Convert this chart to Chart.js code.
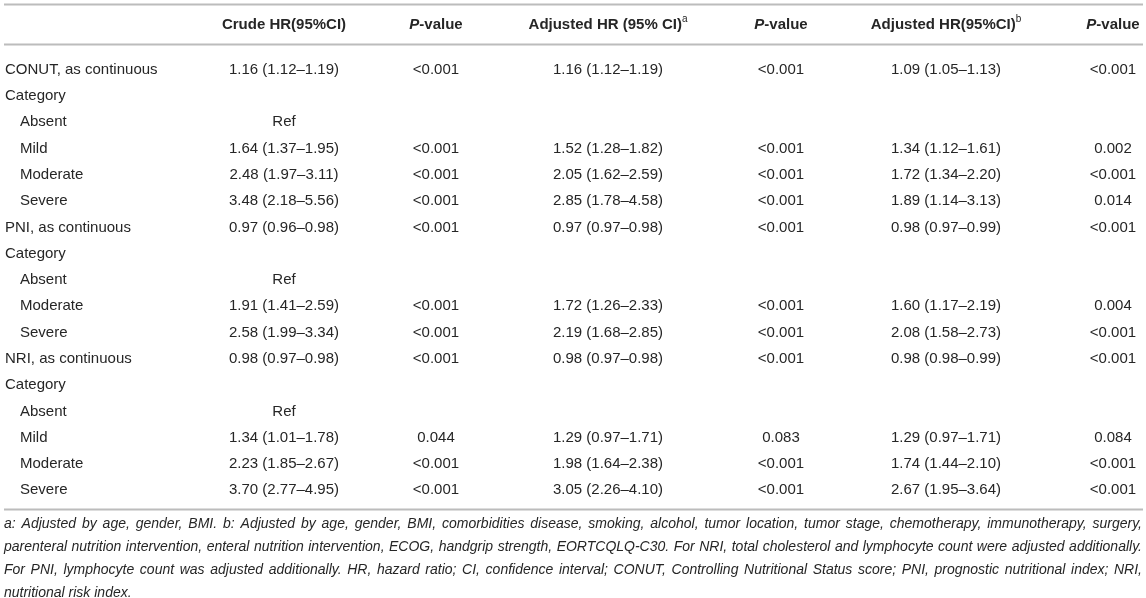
<!DOCTYPE html>
<html>
<head>
<meta charset="utf-8">
<script src="https://cdn.jsdelivr.net/npm/chart.js@4.4.0/dist/chart.umd.js"></script>
<style>
  html, body { margin: 0; padding: 0; background: #fff; }
  #wrap { width: 1146px; height: 598px; }
</style>
</head>
<body>
<div id="wrap"><canvas id="hrTable" width="1146" height="598"></canvas></div>
<script>
// --- table content ---
const rowLabels = [
  'CONUT, as continuous', 'Category', 'Absent', 'Mild', 'Moderate', 'Severe',
  'PNI, as continuous', 'Category', 'Absent', 'Moderate', 'Severe',
  'NRI, as continuous', 'Category', 'Absent', 'Mild', 'Moderate', 'Severe'
]
// 0 = variable, 1 = level inside a category (indented)
const rowLevel = [0, 0, 1, 1, 1, 1, 0, 0, 1, 1, 1, 0, 0, 1, 1, 1, 1]

const crudeHR = [
  '1.16 (1.12–1.19)', '', 'Ref', '1.64 (1.37–1.95)', '2.48 (1.97–3.11)', '3.48 (2.18–5.56)',
  '0.97 (0.96–0.98)', '', 'Ref', '1.91 (1.41–2.59)', '2.58 (1.99–3.34)',
  '0.98 (0.97–0.98)', '', 'Ref', '1.34 (1.01–1.78)', '2.23 (1.85–2.67)', '3.70 (2.77–4.95)'
]
const crudeP = [
  '<0.001', '', '', '<0.001', '<0.001', '<0.001',
  '<0.001', '', '', '<0.001', '<0.001',
  '<0.001', '', '', '0.044', '<0.001', '<0.001'
]
const adjHRa = [
  '1.16 (1.12–1.19)', '', '', '1.52 (1.28–1.82)', '2.05 (1.62–2.59)', '2.85 (1.78–4.58)',
  '0.97 (0.97–0.98)', '', '', '1.72 (1.26–2.33)', '2.19 (1.68–2.85)',
  '0.98 (0.97–0.98)', '', '', '1.29 (0.97–1.71)', '1.98 (1.64–2.38)', '3.05 (2.26–4.10)'
]
const adjPa = [
  '<0.001', '', '', '<0.001', '<0.001', '<0.001',
  '<0.001', '', '', '<0.001', '<0.001',
  '<0.001', '', '', '0.083', '<0.001', '<0.001'
]
const adjHRb = [
  '1.09 (1.05–1.13)', '', '', '1.34 (1.12–1.61)', '1.72 (1.34–2.20)', '1.89 (1.14–3.13)',
  '0.98 (0.97–0.99)', '', '', '1.60 (1.17–2.19)', '2.08 (1.58–2.73)',
  '0.98 (0.98–0.99)', '', '', '1.29 (0.97–1.71)', '1.74 (1.44–2.10)', '2.67 (1.95–3.64)'
]
const adjPb = [
  '<0.001', '', '', '0.002', '<0.001', '0.014',
  '<0.001', '', '', '0.004', '<0.001',
  '<0.001', '', '', '0.084', '<0.001', '<0.001'
]

// header pieces: [text, style]  (b = bold, bi = bold italic, sup = superscript)
const headers = [
  [['Crude HR(95%CI)', 'b']],
  [['P', 'bi'], ['-value', 'b']],
  [['Adjusted HR (95% CI)', 'b'], ['a', 'sup']],
  [['P', 'bi'], ['-value', 'b']],
  [['Adjusted HR(95%CI)', 'b'], ['b', 'sup']],
  [['P', 'bi'], ['-value', 'b']]
]

const footnoteLines = [
  'a: Adjusted by age, gender, BMI. b: Adjusted by age, gender, BMI, comorbidities disease, smoking, alcohol, tumor location, tumor stage, chemotherapy, immunotherapy, surgery,',
  'parenteral nutrition intervention, enteral nutrition intervention, ECOG, handgrip strength, EORTCQLQ-C30. For NRI, total cholesterol and lymphocyte count were adjusted additionally.',
  'For PNI, lymphocyte count was adjusted additionally. HR, hazard ratio; CI, confidence interval; CONUT, Controlling Nutritional Status score; PNI, prognostic nutritional index; NRI,',
  'nutritional risk index.'
]

// --- layout ---
const FAMILY = '"Liberation Sans", Arial, Helvetica, sans-serif'
const TEXT = '#262626'
const RULE = '#bcbcbc'
const LABEL_X = 5
const INDENT = 15
const COL_X = [284, 436, 608, 781, 946, 1113]
const NOTE_LEFT = 4
const NOTE_RIGHT = 1142

const columns = [crudeHR, crudeP, adjHRa, adjPa, adjHRb, adjPb]

const datasets = [{
  label: 'rows',
  cells: rowLabels,
  align: 'left',
  data: rowLabels.map((_, i) => ({ x: LABEL_X + rowLevel[i] * INDENT, y: i })),
  pointRadius: 0
}].concat(columns.map((vals, c) => ({
  label: 'col' + c,
  cells: vals,
  align: 'center',
  data: vals.map((_, i) => ({ x: COL_X[c], y: i })),
  pointRadius: 0
})))

function font(style, size) {
  if (style === 'b') return `bold ${size}px ${FAMILY}`
  if (style === 'bi') return `italic bold ${size}px ${FAMILY}`
  if (style === 'i') return `italic ${size}px ${FAMILY}`
  return `${size}px ${FAMILY}`
}

const tablePlugin = {
  id: 'tableText',
  afterDatasetsDraw(chart) {
    const ctx = chart.ctx
    const { top, bottom } = chart.chartArea
    const xs = chart.scales.x
    ctx.save()

    // horizontal rules
    ctx.fillStyle = RULE
    ctx.fillRect(4, top - 53, 1139, 2)
    ctx.fillRect(4, top - 13, 1139, 2)
    ctx.fillRect(4, bottom + 5, 1139, 2)

    // column headers
    ctx.fillStyle = TEXT
    ctx.textBaseline = 'middle'
    ctx.textAlign = 'left'
    const hy = top - 32
    headers.forEach((pieces, c) => {
      let w = 0
      pieces.forEach(([t, s]) => {
        ctx.font = s === 'sup' ? font('', 10) : font(s, 15)
        w += ctx.measureText(t).width
      })
      let x = xs.getPixelForValue(COL_X[c]) - w / 2
      pieces.forEach(([t, s]) => {
        ctx.font = s === 'sup' ? font('', 10) : font(s, 15)
        ctx.fillText(t, x, s === 'sup' ? hy - 5 : hy)
        x += ctx.measureText(t).width
      })
    })

    // body cells, placed at each point element
    ctx.font = font('', 15)
    chart.data.datasets.forEach((ds, d) => {
      const meta = chart.getDatasetMeta(d)
      ctx.textAlign = ds.align
      meta.data.forEach((el, i) => {
        const txt = ds.cells[i]
        if (txt) ctx.fillText(txt, el.x, el.y)
      })
    })

    // footnote, justified
    let size = 14
    const width = NOTE_RIGHT - NOTE_LEFT
    ctx.font = font('i', size)
    while (size > 10 && footnoteLines.some(l => ctx.measureText(l).width > width)) {
      size -= 0.25
      ctx.font = font('i', size)
    }
    ctx.textAlign = 'left'
    footnoteLines.forEach((line, k) => {
      const y = bottom + 21 + k * 23
      const last = k === footnoteLines.length - 1
      const words = line.split(' ')
      if (last) {
        ctx.fillText(line, NOTE_LEFT, y)
        return
      }
      const ww = words.map(w => ctx.measureText(w).width)
      const gap = (width - ww.reduce((a, b) => a + b, 0)) / (words.length - 1)
      let x = NOTE_LEFT
      words.forEach((w, j) => {
        ctx.fillText(w, x, y)
        x += ww[j] + gap
      })
    })
    ctx.restore()
  }
}

new Chart(document.getElementById('hrTable'), {
  type: 'scatter',
  data: { datasets },
  options: {
    responsive: false,
    animation: false,
    events: [],
    layout: { padding: { left: 0, right: 0, top: 56.5, bottom: 94.5 } },
    plugins: { legend: { display: false }, tooltip: { enabled: false } },
    scales: {
      x: { type: 'linear', min: 0, max: 1146, display: false },
      y: { type: 'linear', min: -0.5, max: rowLabels.length - 0.5, reverse: true, display: false }
    }
  },
  plugins: [tablePlugin]
})
</script>
</body>
</html>
